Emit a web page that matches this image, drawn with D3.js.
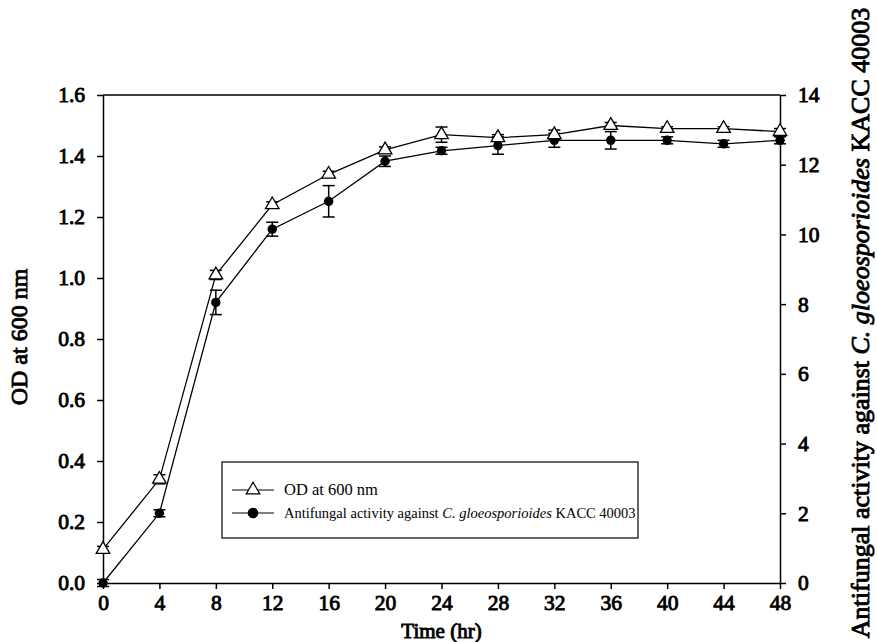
<!DOCTYPE html>
<html>
<head>
<meta charset="utf-8">
<script src="https://cdn.jsdelivr.net/npm/d3@7"></script>
<style>
  body { margin: 0; background: #fff; }
  svg { font-family: "Liberation Serif", "Times New Roman", serif; }
  .axis path, .axis line { stroke: #000; stroke-width: 1.5px; }
  .axis text, .title { font-family: "Liberation Serif", "Times New Roman", serif; font-weight: normal; fill: #000; stroke: #000; stroke-width: 0.9px; }
  .axis text { font-size: 21.5px; }
</style>
</head>
<body>
<div id="chart"></div>
<script>
// data
var hours = [0, 4, 8, 12, 16, 20, 24, 28, 32, 36, 40, 44, 48];
var odValues = [0.11, 0.34, 1.01, 1.24, 1.34, 1.42, 1.47, 1.46, 1.47, 1.50, 1.49, 1.49, 1.48];
var odErrors = [0.01, 0.015, 0.015, 0.01, 0.01, 0.01, 0.025, 0.01, 0.015, 0.01, 0.006, 0.006, 0.01];
var afValues = [0, 2.0, 8.05, 10.15, 10.95, 12.1, 12.4, 12.55, 12.7, 12.7, 12.7, 12.6, 12.7];
var afErrors = [0.1, 0.1, 0.35, 0.2, 0.45, 0.15, 0.1, 0.25, 0.2, 0.25, 0.1, 0.1, 0.1];
var xTicks = [0, 4, 8, 12, 16, 20, 24, 28, 32, 36, 40, 44, 48];
var leftTicks = [0, 0.2, 0.4, 0.6, 0.8, 1.0, 1.2, 1.4, 1.6];
var rightTicks = [0, 2, 4, 6, 8, 10, 12, 14];

// set the dimensions and margins of the graph
var margin = { top: 95, right: 97, bottom: 59, left: 103 },
    width = 877 - margin.left - margin.right,
    height = 642 - margin.top - margin.bottom;

var svg = d3.select("#chart")
    .append("svg")
    .attr("width", 877)
    .attr("height", 642)
    .append("g")
    .attr("transform", "translate(" + margin.left + "," + margin.top + ")");

// scales
var x = d3.scaleLinear().domain([0, 48]).range([0, width]);
var yLeft = d3.scaleLinear().domain([0, 1.6]).range([height, 0]);
var yRight = d3.scaleLinear().domain([0, 14]).range([height, 0]);

// top border
svg.append("line")
    .attr("x1", 0).attr("x2", width)
    .attr("y1", 0).attr("y2", 0)
    .attr("stroke", "#000").attr("stroke-width", 1.5);

// axes
svg.append("g")
    .attr("class", "axis")
    .attr("transform", "translate(0," + height + ")")
    .call(d3.axisBottom(x).tickValues(xTicks).tickSize(6).tickPadding(6).tickSizeOuter(0));

svg.append("g")
    .attr("class", "axis")
    .call(d3.axisLeft(yLeft).tickValues(leftTicks).tickFormat(d3.format(".1f")).tickSize(6).tickPadding(12).tickSizeOuter(0));

svg.append("g")
    .attr("class", "axis")
    .attr("transform", "translate(" + width + ",0)")
    .call(d3.axisRight(yRight).tickValues(rightTicks).tickSize(6).tickPadding(12).tickSizeOuter(0));

svg.selectAll(".axis").attr("font-family", null);

// axis titles
svg.append("text")
    .attr("class", "title")
    .attr("x", width / 2)
    .attr("y", height + 55)
    .style("text-anchor", "middle")
    .style("font-size", "21px")
    .text("Time (hr)");

svg.append("text")
    .attr("class", "title")
    .attr("transform", "translate(" + (-76) + "," + (height / 2 - 2) + ") rotate(-90)")
    .style("text-anchor", "middle")
    .style("font-size", "24px")
    .text("OD at 600 nm");

var rightTitle = svg.append("text")
    .attr("class", "title")
    .attr("transform", "translate(" + (width + 89) + "," + (height / 2 - 16) + ") rotate(-90)")
    .style("text-anchor", "middle")
    .style("font-size", "26px");
rightTitle.append("tspan").text("Antifungal activity against ");
rightTitle.append("tspan").style("font-style", "italic").text("C. gloeosporioides");
rightTitle.append("tspan").text(" KACC 40003");

// series
var odData = hours.map(function (h, i) { return { t: h, v: odValues[i], e: odErrors[i] }; });
var afData = hours.map(function (h, i) { return { t: h, v: afValues[i], e: afErrors[i] }; });

var drawErrors = function (data, yScale) {
    var g = svg.append("g").attr("stroke", "#000").attr("stroke-width", 1.5);
    data.forEach(function (d) {
        var y1 = yScale(d.v - d.e), y2 = yScale(d.v + d.e);
        g.append("line").attr("x1", x(d.t)).attr("x2", x(d.t)).attr("y1", y1).attr("y2", y2);
        g.append("line").attr("x1", x(d.t) - 6).attr("x2", x(d.t) + 6).attr("y1", y1).attr("y2", y1);
        g.append("line").attr("x1", x(d.t) - 6).attr("x2", x(d.t) + 6).attr("y1", y2).attr("y2", y2);
    });
};

drawErrors(afData, yRight);
drawErrors(odData, yLeft);

svg.append("path")
    .datum(afData)
    .attr("fill", "none")
    .attr("stroke", "#000")
    .attr("stroke-width", 1.3)
    .attr("d", d3.line().x(function (d) { return x(d.t); }).y(function (d) { return yRight(d.v); }));

svg.append("path")
    .datum(odData)
    .attr("fill", "none")
    .attr("stroke", "#000")
    .attr("stroke-width", 1.3)
    .attr("d", d3.line().x(function (d) { return x(d.t); }).y(function (d) { return yLeft(d.v); }));

var triangle = d3.symbol().type(d3.symbolTriangle).size(80);
var circle = d3.symbol().type(d3.symbolCircle).size(70);

svg.selectAll(".af-dot")
    .data(afData)
    .enter().append("path")
    .attr("class", "af-dot")
    .attr("d", circle)
    .attr("transform", function (d) { return "translate(" + x(d.t) + "," + yRight(d.v) + ")"; })
    .attr("fill", "#000");

svg.selectAll(".od-dot")
    .data(odData)
    .enter().append("path")
    .attr("class", "od-dot")
    .attr("d", triangle)
    .attr("transform", function (d) { return "translate(" + x(d.t) + "," + yLeft(d.v) + ")"; })
    .attr("fill", "#fff")
    .attr("stroke", "#000")
    .attr("stroke-width", 1.3);

// legend
var legend = svg.append("g").attr("transform", "translate(" + (222 - margin.left) + "," + (462 - margin.top) + ")");
legend.append("rect")
    .attr("width", 416).attr("height", 76)
    .attr("fill", "#fff").attr("stroke", "#000").attr("stroke-width", 1.2);

var legendRows = [
    { label: "OD at 600 nm", sym: triangle, fill: "#fff", size: 16.5 },
    { label: "Antifungal activity against ", italic: "C. gloeosporioides", tail: " KACC 40003", sym: circle, fill: "#000", size: 14.5 }
];
legendRows.forEach(function (r, i) {
    var yy = 28 + i * 23;
    legend.append("line").attr("x1", 10).attr("x2", 52).attr("y1", yy).attr("y2", yy)
        .attr("stroke", "#000").attr("stroke-width", 1.2);
    legend.append("path").attr("d", r.sym).attr("transform", "translate(31," + yy + ")")
        .attr("fill", r.fill).attr("stroke", "#000").attr("stroke-width", 1.2);
    var t = legend.append("text").attr("x", 62).attr("y", yy + 5).style("font-size", r.size + "px");
    t.append("tspan").text(r.label);
    if (r.italic) {
        t.append("tspan").style("font-style", "italic").text(r.italic);
        t.append("tspan").text(r.tail);
    }
});
</script>
</body>
</html>
